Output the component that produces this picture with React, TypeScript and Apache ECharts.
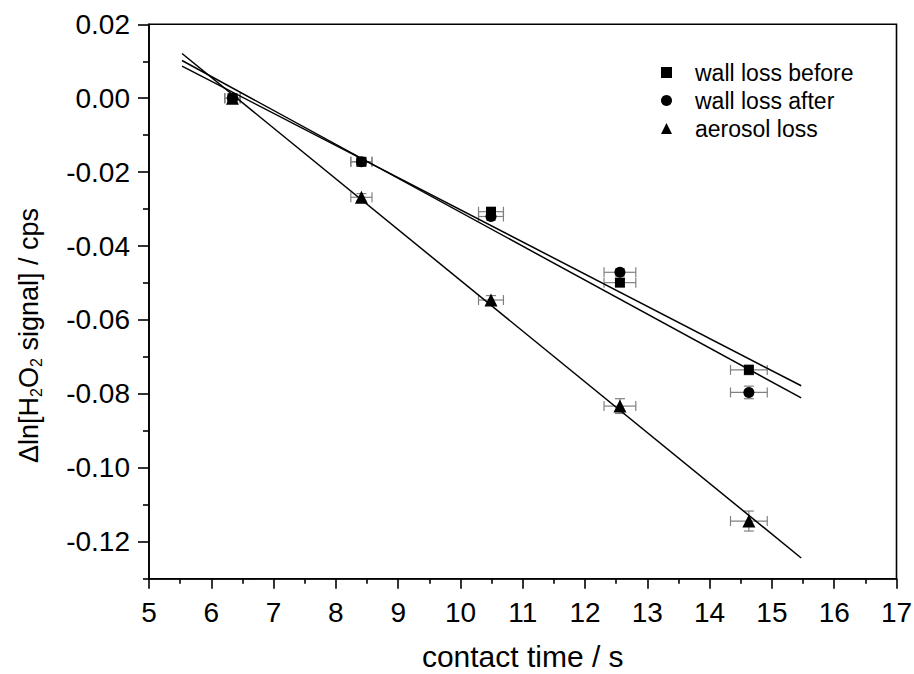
import React, { useEffect, useRef } from 'react';
import * as echarts from 'echarts';

const contactTime = [6.34, 8.41, 10.49, 12.56, 14.63];
const timeErr = [0.125, 0.17, 0.2, 0.255, 0.295];
const wallLossBefore = [0.0, -0.0172, -0.0307, -0.0499, -0.0735];
const wallLossBeforeErr = [0.0005, 0.0008, 0.001, 0.001, 0.0013];
const wallLossAfter = [0.0, -0.0172, -0.032, -0.0471, -0.0796];
const wallLossAfterErr = [0.0005, 0.0008, 0.001, 0.001, 0.0017];
const aerosolLoss = [0.0, -0.0268, -0.0546, -0.0833, -0.1144];
const aerosolLossErr = [0.0006, 0.001, 0.0012, 0.002, 0.0027];

const fitTime = [5.53, 15.47];
const fitBefore = [0.0087, -0.0778];
const fitAfter = [0.0102, -0.0811];
const fitAerosol = [0.0121, -0.1244];

const yMajorTicks = [0.02, 0, -0.02, -0.04, -0.06, -0.08, -0.1, -0.12];
const yMinorTicks = [0.01, -0.01, -0.03, -0.05, -0.07, -0.09, -0.11, -0.13];

const seriesNames = ['wall loss before', 'wall loss after', 'aerosol loss'];

const FONT = "'Liberation Sans', Arial, sans-serif";

function zip(xs: number[], ys: number[]) {
  return xs.map((x, i) => [x, ys[i]]);
}

function errorSeries(values: number[], errs: number[]) {
  return {
    type: 'custom',
    silent: true,
    z: 1,
    data: contactTime.map((t, i) => [t, values[i], timeErr[i], errs[i]]),
    encode: { x: 0, y: 1 },
    renderItem: (_params: any, api: any) => {
      const x = api.value(0);
      const y = api.value(1);
      const ex = api.value(2);
      const ey = api.value(3);
      const l = api.coord([x - ex, y]);
      const r = api.coord([x + ex, y]);
      const t = api.coord([x, y + ey]);
      const b = api.coord([x, y - ey]);
      const cap = 5;
      const style = { stroke: '#808080', lineWidth: 1.2 };
      return {
        type: 'group',
        children: [
          { type: 'line', shape: { x1: l[0], y1: l[1], x2: r[0], y2: r[1] }, style },
          { type: 'line', shape: { x1: l[0], y1: l[1] - cap, x2: l[0], y2: l[1] + cap }, style },
          { type: 'line', shape: { x1: r[0], y1: r[1] - cap, x2: r[0], y2: r[1] + cap }, style },
          { type: 'line', shape: { x1: t[0], y1: t[1], x2: b[0], y2: b[1] }, style },
          { type: 'line', shape: { x1: t[0] - cap, y1: t[1], x2: t[0] + cap, y2: t[1] }, style },
          { type: 'line', shape: { x1: b[0] - cap, y1: b[1], x2: b[0] + cap, y2: b[1] }, style },
        ],
      };
    },
  };
}

function fitSeries(ys: number[]) {
  return {
    type: 'line',
    data: zip(fitTime, ys),
    symbol: 'none',
    showSymbol: false,
    silent: true,
    z: 4,
    lineStyle: { color: '#000', width: 1.5 },
  };
}

export default function App() {
  const ref = useRef<HTMLDivElement>(null);
  useEffect(() => {
    if (!ref.current) return;
    const chart = echarts.init(ref.current, undefined, { renderer: 'svg' });
    const axisLine = { show: true, onZero: false, lineStyle: { color: '#000', width: 1.6 } };
    const markerStyle = { color: '#000', opacity: 1 };
    chart.setOption({
      animation: false,
      backgroundColor: '#fff',
      textStyle: { fontFamily: FONT, color: '#000' },
      grid: {
        left: 149,
        right: 17.5,
        top: 24.3,
        bottom: 95.3,
        containLabel: false,
        outerBoundsMode: 'none',
        show: true,
        borderColor: '#000',
        borderWidth: 1.6,
        backgroundColor: 'transparent',
      },
      legend: {
        orient: 'vertical',
        left: 656,
        top: 55.5,
        itemWidth: 11,
        itemHeight: 11,
        itemGap: 4,
        selectedMode: false,
        data: seriesNames,
        itemStyle: { opacity: 1 },
        textStyle: {
          fontFamily: FONT,
          fontSize: 23,
          lineHeight: 24,
          color: '#000',
          padding: [0, 0, 0, 18],
        },
      },
      xAxis: {
        type: 'value',
        min: 5,
        max: 17,
        interval: 1,
        axisLine,
        axisTick: { show: true, inside: false, length: 10, lineStyle: { color: '#000', width: 1.6 } },
        minorTick: { show: true, splitNumber: 2, length: 5, lineStyle: { color: '#000', width: 1.6 } },
        axisLabel: { fontFamily: FONT, fontSize: 28, color: '#000', margin: 20 },
        splitLine: { show: false },
        minorSplitLine: { show: false },
        name: 'contact time / s',
        nameLocation: 'middle',
        nameGap: 66,
        nameTextStyle: { fontFamily: FONT, fontSize: 30, lineHeight: 24, color: '#000' },
      },
      yAxis: [
        {
          type: 'value',
          min: -0.13,
          max: 0.02,
          position: 'left',
          axisLine,
          axisTick: {
            show: true,
            inside: false,
            length: 11,
            customValues: yMajorTicks,
            lineStyle: { color: '#000', width: 1.6 },
          },
          axisLabel: {
            customValues: yMajorTicks,
            formatter: (v: number) => v.toFixed(2),
            fontFamily: FONT,
            fontSize: 28,
            color: '#000',
            margin: 19,
          },
          splitLine: { show: false },
          name: 'Δln[H{s|2}O{s|2} signal] / cps',
          nameLocation: 'middle',
          nameGap: 105,
          nameTextStyle: {
            fontFamily: FONT,
            fontSize: 27,
            lineHeight: 31,
            color: '#000',
            padding: [0, 68, 0, 0],
            rich: {
              s: { fontFamily: FONT, fontSize: 16, lineHeight: 18, verticalAlign: 'bottom', color: '#000' },
            },
          },
        },
        {
          type: 'value',
          min: -0.13,
          max: 0.02,
          position: 'left',
          axisLine: { show: false },
          axisTick: {
            show: true,
            inside: false,
            length: 6,
            customValues: yMinorTicks,
            lineStyle: { color: '#000', width: 1.6 },
          },
          axisLabel: { show: false },
          splitLine: { show: false },
        },
      ],
      series: [
        errorSeries(wallLossBefore, wallLossBeforeErr),
        errorSeries(wallLossAfter, wallLossAfterErr),
        errorSeries(aerosolLoss, aerosolLossErr),
        fitSeries(fitBefore),
        fitSeries(fitAfter),
        fitSeries(fitAerosol),
        {
          name: seriesNames[0],
          type: 'scatter',
          symbol: 'rect',
          symbolSize: 10,
          z: 3,
          itemStyle: markerStyle,
          data: zip(contactTime, wallLossBefore),
        },
        {
          name: seriesNames[1],
          type: 'scatter',
          symbol: 'circle',
          symbolSize: 11,
          z: 3,
          itemStyle: markerStyle,
          data: zip(contactTime, wallLossAfter),
        },
        {
          name: seriesNames[2],
          type: 'scatter',
          symbol: 'triangle',
          symbolSize: 13,
          z: 3,
          itemStyle: markerStyle,
          data: zip(contactTime, aerosolLoss),
        },
      ],
    });
    return () => chart.dispose();
  }, []);
  return (
    <div
      ref={ref}
      style={{ position: 'fixed', left: 0, top: 0, width: 914, height: 674, background: '#fff' }}
    />
  );
}
